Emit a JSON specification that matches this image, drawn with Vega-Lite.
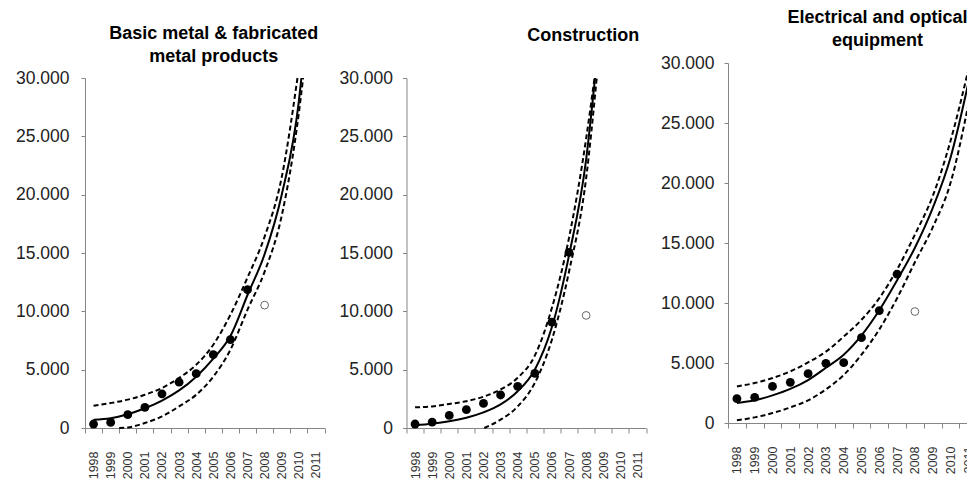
{
  "$schema": "https://vega.github.io/schema/vega-lite/v6.json",
  "padding": {"left": 15, "top": 9, "right": 0, "bottom": 0},
  "background": "white",
  "bounds": "flush",
  "spacing": 81.5,
  "config": {
    "view": {"stroke": null},
    "font": "Liberation Sans",
    "axis": {
      "labelFont": "Liberation Sans",
      "domainColor": "#868686",
      "tickColor": "#868686",
      "grid": false,
      "title": null
    },
    "title": {"font": "Liberation Sans", "fontSize": 18, "fontWeight": "bold", "color": "#000000", "lineHeight": 23, "anchor": "middle", "frame": "group"}
  },
  "data": {
    "values": [
      {"panel": "p1", "kind": "obs", "year": 1998, "value": 340},
      {"panel": "p1", "kind": "obs", "year": 1999, "value": 480},
      {"panel": "p1", "kind": "obs", "year": 2000, "value": 1140},
      {"panel": "p1", "kind": "obs", "year": 2001, "value": 1765},
      {"panel": "p1", "kind": "obs", "year": 2002, "value": 2930},
      {"panel": "p1", "kind": "obs", "year": 2003, "value": 3930},
      {"panel": "p1", "kind": "obs", "year": 2004, "value": 4660},
      {"panel": "p1", "kind": "obs", "year": 2005, "value": 6280},
      {"panel": "p1", "kind": "obs", "year": 2006, "value": 7580},
      {"panel": "p1", "kind": "obs", "year": 2007, "value": 11850},
      {"panel": "p1", "kind": "out", "year": 2008, "value": 10530},
      {"panel": "p1", "kind": "fit", "year": 1998, "value": 710},
      {"panel": "p1", "kind": "fit", "year": 1999, "value": 840},
      {"panel": "p1", "kind": "fit", "year": 2000, "value": 1180},
      {"panel": "p1", "kind": "fit", "year": 2001, "value": 1690},
      {"panel": "p1", "kind": "fit", "year": 2002, "value": 2350},
      {"panel": "p1", "kind": "fit", "year": 2003, "value": 3220},
      {"panel": "p1", "kind": "fit", "year": 2004, "value": 4400},
      {"panel": "p1", "kind": "fit", "year": 2005, "value": 5950},
      {"panel": "p1", "kind": "fit", "year": 2006, "value": 7880},
      {"panel": "p1", "kind": "fit", "year": 2007, "value": 11400},
      {"panel": "p1", "kind": "fit", "year": 2008, "value": 14900},
      {"panel": "p1", "kind": "fit", "year": 2009, "value": 20000},
      {"panel": "p1", "kind": "fit", "year": 2010, "value": 28000},
      {"panel": "p1", "kind": "fit", "year": 2010.15, "value": 30000},
      {"panel": "p1", "kind": "upper", "year": 1998, "value": 1910},
      {"panel": "p1", "kind": "upper", "year": 1999, "value": 2140},
      {"panel": "p1", "kind": "upper", "year": 2000, "value": 2430},
      {"panel": "p1", "kind": "upper", "year": 2001, "value": 2850},
      {"panel": "p1", "kind": "upper", "year": 2002, "value": 3430},
      {"panel": "p1", "kind": "upper", "year": 2003, "value": 4290},
      {"panel": "p1", "kind": "upper", "year": 2004, "value": 5420},
      {"panel": "p1", "kind": "upper", "year": 2005, "value": 7140},
      {"panel": "p1", "kind": "upper", "year": 2006, "value": 9700},
      {"panel": "p1", "kind": "upper", "year": 2007, "value": 12900},
      {"panel": "p1", "kind": "upper", "year": 2008, "value": 16400},
      {"panel": "p1", "kind": "upper", "year": 2009, "value": 21500},
      {"panel": "p1", "kind": "upper", "year": 2009.92, "value": 30000},
      {"panel": "p1", "kind": "lower", "year": 1999.5, "value": 0},
      {"panel": "p1", "kind": "lower", "year": 2000, "value": 40},
      {"panel": "p1", "kind": "lower", "year": 2001, "value": 430},
      {"panel": "p1", "kind": "lower", "year": 2002, "value": 990},
      {"panel": "p1", "kind": "lower", "year": 2003, "value": 1850},
      {"panel": "p1", "kind": "lower", "year": 2004, "value": 2850},
      {"panel": "p1", "kind": "lower", "year": 2005, "value": 4400},
      {"panel": "p1", "kind": "lower", "year": 2006, "value": 6710},
      {"panel": "p1", "kind": "lower", "year": 2007, "value": 10150},
      {"panel": "p1", "kind": "lower", "year": 2008, "value": 13400},
      {"panel": "p1", "kind": "lower", "year": 2009, "value": 18200},
      {"panel": "p1", "kind": "lower", "year": 2010, "value": 27000},
      {"panel": "p1", "kind": "lower", "year": 2010.25, "value": 30000},

      {"panel": "p2", "kind": "obs", "year": 1998, "value": 340},
      {"panel": "p2", "kind": "obs", "year": 1999, "value": 510},
      {"panel": "p2", "kind": "obs", "year": 2000, "value": 1080},
      {"panel": "p2", "kind": "obs", "year": 2001, "value": 1570},
      {"panel": "p2", "kind": "obs", "year": 2002, "value": 2110},
      {"panel": "p2", "kind": "obs", "year": 2003, "value": 2830},
      {"panel": "p2", "kind": "obs", "year": 2004, "value": 3570},
      {"panel": "p2", "kind": "obs", "year": 2005, "value": 4680},
      {"panel": "p2", "kind": "obs", "year": 2006, "value": 9070},
      {"panel": "p2", "kind": "obs", "year": 2007, "value": 15050},
      {"panel": "p2", "kind": "out", "year": 2008, "value": 9650},
      {"panel": "p2", "kind": "fit", "year": 1998, "value": 230},
      {"panel": "p2", "kind": "fit", "year": 1999, "value": 360},
      {"panel": "p2", "kind": "fit", "year": 2000, "value": 570},
      {"panel": "p2", "kind": "fit", "year": 2001, "value": 880},
      {"panel": "p2", "kind": "fit", "year": 2002, "value": 1340},
      {"panel": "p2", "kind": "fit", "year": 2003, "value": 2020},
      {"panel": "p2", "kind": "fit", "year": 2004, "value": 3150},
      {"panel": "p2", "kind": "fit", "year": 2005, "value": 5000},
      {"panel": "p2", "kind": "fit", "year": 2006, "value": 8650},
      {"panel": "p2", "kind": "fit", "year": 2007, "value": 14800},
      {"panel": "p2", "kind": "fit", "year": 2008, "value": 23000},
      {"panel": "p2", "kind": "fit", "year": 2008.52, "value": 30000},
      {"panel": "p2", "kind": "upper", "year": 1998, "value": 1770},
      {"panel": "p2", "kind": "upper", "year": 1999, "value": 1850},
      {"panel": "p2", "kind": "upper", "year": 2000, "value": 2060},
      {"panel": "p2", "kind": "upper", "year": 2001, "value": 2300},
      {"panel": "p2", "kind": "upper", "year": 2002, "value": 2680},
      {"panel": "p2", "kind": "upper", "year": 2003, "value": 3300},
      {"panel": "p2", "kind": "upper", "year": 2004, "value": 4300},
      {"panel": "p2", "kind": "upper", "year": 2005, "value": 6200},
      {"panel": "p2", "kind": "upper", "year": 2006, "value": 10300},
      {"panel": "p2", "kind": "upper", "year": 2007, "value": 16300},
      {"panel": "p2", "kind": "upper", "year": 2008, "value": 24800},
      {"panel": "p2", "kind": "upper", "year": 2008.49, "value": 30000},
      {"panel": "p2", "kind": "lower", "year": 2002.05, "value": 0},
      {"panel": "p2", "kind": "lower", "year": 2003, "value": 710},
      {"panel": "p2", "kind": "lower", "year": 2004, "value": 1850},
      {"panel": "p2", "kind": "lower", "year": 2005, "value": 3860},
      {"panel": "p2", "kind": "lower", "year": 2006, "value": 7570},
      {"panel": "p2", "kind": "lower", "year": 2007, "value": 13400},
      {"panel": "p2", "kind": "lower", "year": 2008, "value": 21400},
      {"panel": "p2", "kind": "lower", "year": 2008.62, "value": 30000},

      {"panel": "p3", "kind": "obs", "year": 1998, "value": 2030},
      {"panel": "p3", "kind": "obs", "year": 1999, "value": 2140},
      {"panel": "p3", "kind": "obs", "year": 2000, "value": 3050},
      {"panel": "p3", "kind": "obs", "year": 2001, "value": 3390},
      {"panel": "p3", "kind": "obs", "year": 2002, "value": 4110},
      {"panel": "p3", "kind": "obs", "year": 2003, "value": 4970},
      {"panel": "p3", "kind": "obs", "year": 2004, "value": 5030},
      {"panel": "p3", "kind": "obs", "year": 2005, "value": 7110},
      {"panel": "p3", "kind": "obs", "year": 2006, "value": 9370},
      {"panel": "p3", "kind": "obs", "year": 2007, "value": 12400},
      {"panel": "p3", "kind": "out", "year": 2008, "value": 9290},
      {"panel": "p3", "kind": "fit", "year": 1998, "value": 1670},
      {"panel": "p3", "kind": "fit", "year": 1999, "value": 1890},
      {"panel": "p3", "kind": "fit", "year": 2000, "value": 2300},
      {"panel": "p3", "kind": "fit", "year": 2001, "value": 2840},
      {"panel": "p3", "kind": "fit", "year": 2002, "value": 3580},
      {"panel": "p3", "kind": "fit", "year": 2003, "value": 4600},
      {"panel": "p3", "kind": "fit", "year": 2004, "value": 5690},
      {"panel": "p3", "kind": "fit", "year": 2005, "value": 7300},
      {"panel": "p3", "kind": "fit", "year": 2006, "value": 9400},
      {"panel": "p3", "kind": "fit", "year": 2007, "value": 11900},
      {"panel": "p3", "kind": "fit", "year": 2008, "value": 14600},
      {"panel": "p3", "kind": "fit", "year": 2009, "value": 17900},
      {"panel": "p3", "kind": "fit", "year": 2010, "value": 22100},
      {"panel": "p3", "kind": "fit", "year": 2011, "value": 28300},
      {"panel": "p3", "kind": "upper", "year": 1998, "value": 3050},
      {"panel": "p3", "kind": "upper", "year": 1999, "value": 3330},
      {"panel": "p3", "kind": "upper", "year": 2000, "value": 3750},
      {"panel": "p3", "kind": "upper", "year": 2001, "value": 4300},
      {"panel": "p3", "kind": "upper", "year": 2002, "value": 5050},
      {"panel": "p3", "kind": "upper", "year": 2003, "value": 5950},
      {"panel": "p3", "kind": "upper", "year": 2004, "value": 7200},
      {"panel": "p3", "kind": "upper", "year": 2005, "value": 8600},
      {"panel": "p3", "kind": "upper", "year": 2006, "value": 10400},
      {"panel": "p3", "kind": "upper", "year": 2007, "value": 12800},
      {"panel": "p3", "kind": "upper", "year": 2008, "value": 15700},
      {"panel": "p3", "kind": "upper", "year": 2009, "value": 18900},
      {"panel": "p3", "kind": "upper", "year": 2010, "value": 23500},
      {"panel": "p3", "kind": "upper", "year": 2011, "value": 29400},
      {"panel": "p3", "kind": "lower", "year": 1998, "value": 220},
      {"panel": "p3", "kind": "lower", "year": 1999, "value": 470},
      {"panel": "p3", "kind": "lower", "year": 2000, "value": 830},
      {"panel": "p3", "kind": "lower", "year": 2001, "value": 1300},
      {"panel": "p3", "kind": "lower", "year": 2002, "value": 1890},
      {"panel": "p3", "kind": "lower", "year": 2003, "value": 2800},
      {"panel": "p3", "kind": "lower", "year": 2004, "value": 4000},
      {"panel": "p3", "kind": "lower", "year": 2005, "value": 5700},
      {"panel": "p3", "kind": "lower", "year": 2006, "value": 7800},
      {"panel": "p3", "kind": "lower", "year": 2007, "value": 10400},
      {"panel": "p3", "kind": "lower", "year": 2008, "value": 13400},
      {"panel": "p3", "kind": "lower", "year": 2009, "value": 16300},
      {"panel": "p3", "kind": "lower", "year": 2010, "value": 20000},
      {"panel": "p3", "kind": "lower", "year": 2011, "value": 26500}
    ]
  },
  "hconcat": [
    {
      "width": 239.5,
      "height": 365,
      "title": {"text": ["Basic metal & fabricated", "metal products"], "dx": 9, "dy": 7},
      "transform": [{"filter": "datum.panel === 'p1'"}],
      "encoding": {
        "x": {"field": "year", "type": "quantitative",
          "scale": {"domain": [1997.5, 2011.5], "nice": false, "zero": false},
          "axis": {"values": [1997.5, 1998.5, 1999.5, 2000.5, 2001.5, 2002.5, 2003.5, 2004.5, 2005.5, 2006.5, 2007.5, 2008.5, 2009.5, 2010.5, 2011.5],
            "labelExpr": "datum.value > 2011.2 ? '' : format(datum.value + 0.5, 'd')",
            "labelAngle": -90, "labelOffset": 8.55, "labelFontSize": 12.5, "labelColor": "#333333",
            "tickSize": 5, "labelPadding": 18, "labelOverlap": false, "labelFlush": false, "labelBound": false}},
        "y": {"field": "value", "type": "quantitative",
          "scale": {"domain": [0, 30000], "range": [365, 15], "nice": false, "zero": true},
          "axis": {"values": [0, 5000, 10000, 15000, 20000, 25000, 30000],
            "labelExpr": "replace(format(datum.value, ','), ',', '.')",
            "labelFontSize": 17.5, "labelColor": "#222222", "tickSize": 4, "labelPadding": 12}}
      },
      "layer": [
        {"transform": [{"filter": "datum.kind === 'upper'"}], "mark": {"type": "line", "interpolate": "monotone", "color": "#000000", "strokeWidth": 2, "strokeDash": [5, 3]}, "encoding": {}},
        {"transform": [{"filter": "datum.kind === 'lower'"}], "mark": {"type": "line", "interpolate": "monotone", "color": "#000000", "strokeWidth": 2, "strokeDash": [5, 3]}, "encoding": {}},
        {"transform": [{"filter": "datum.kind === 'fit'"}], "mark": {"type": "line", "interpolate": "monotone", "color": "#000000", "strokeWidth": 2}, "encoding": {}},
        {"transform": [{"filter": "datum.kind === 'obs'"}], "mark": {"type": "point", "shape": "circle", "filled": true, "color": "#000000", "size": 78, "opacity": 1}, "encoding": {}},
        {"transform": [{"filter": "datum.kind === 'out'"}], "mark": {"type": "point", "shape": "circle", "filled": false, "color": "#666666", "strokeWidth": 1, "size": 60, "opacity": 1}, "encoding": {}}
      ]
    },
    {
      "width": 239.5,
      "height": 365,
      "title": {"text": "Construction", "dx": 57, "dy": -14},
      "transform": [{"filter": "datum.panel === 'p2'"}],
      "encoding": {
        "x": {"field": "year", "type": "quantitative",
          "scale": {"domain": [1997.5, 2011.5], "nice": false, "zero": false},
          "axis": {"values": [1997.5, 1998.5, 1999.5, 2000.5, 2001.5, 2002.5, 2003.5, 2004.5, 2005.5, 2006.5, 2007.5, 2008.5, 2009.5, 2010.5, 2011.5],
            "labelExpr": "datum.value > 2011.2 ? '' : format(datum.value + 0.5, 'd')",
            "labelAngle": -90, "labelOffset": 8.55, "labelFontSize": 12.5, "labelColor": "#333333",
            "tickSize": 5, "labelPadding": 18, "labelOverlap": false, "labelFlush": false, "labelBound": false}},
        "y": {"field": "value", "type": "quantitative",
          "scale": {"domain": [0, 30000], "range": [365, 15], "nice": false, "zero": true},
          "axis": {"values": [0, 5000, 10000, 15000, 20000, 25000, 30000],
            "labelExpr": "replace(format(datum.value, ','), ',', '.')",
            "labelFontSize": 17.5, "labelColor": "#222222", "tickSize": 4, "labelPadding": 10}}
      },
      "layer": [
        {"transform": [{"filter": "datum.kind === 'upper'"}], "mark": {"type": "line", "interpolate": "monotone", "color": "#000000", "strokeWidth": 2, "strokeDash": [5, 3]}, "encoding": {}},
        {"transform": [{"filter": "datum.kind === 'lower'"}], "mark": {"type": "line", "interpolate": "monotone", "color": "#000000", "strokeWidth": 2, "strokeDash": [5, 3]}, "encoding": {}},
        {"transform": [{"filter": "datum.kind === 'fit'"}], "mark": {"type": "line", "interpolate": "monotone", "color": "#000000", "strokeWidth": 2}, "encoding": {}},
        {"transform": [{"filter": "datum.kind === 'obs'"}], "mark": {"type": "point", "shape": "circle", "filled": true, "color": "#000000", "size": 78, "opacity": 1}, "encoding": {}},
        {"transform": [{"filter": "datum.kind === 'out'"}], "mark": {"type": "point", "shape": "circle", "filled": false, "color": "#666666", "strokeWidth": 1, "size": 60, "opacity": 1}, "encoding": {}}
      ]
    },
    {
      "width": 241,
      "height": 360,
      "title": {"text": ["Electrical and optical", "equipment"], "dx": 29},
      "transform": [{"filter": "datum.panel === 'p3'"}],
      "encoding": {
        "x": {"field": "year", "type": "quantitative",
          "scale": {"domain": [1997.5, 2011.04], "nice": false, "zero": false},
          "axis": {"values": [1997.5, 1998.5, 1999.5, 2000.5, 2001.5, 2002.5, 2003.5, 2004.5, 2005.5, 2006.5, 2007.5, 2008.5, 2009.5, 2010.5],
            "labelExpr": "format(datum.value + 0.5, 'd')",
            "labelAngle": -90, "labelOffset": 8.9, "labelFontSize": 12.5, "labelColor": "#333333",
            "tickSize": 5, "labelPadding": 18, "labelOverlap": false, "labelFlush": false, "labelBound": false}},
        "y": {"field": "value", "type": "quantitative",
          "scale": {"domain": [0, 30000], "nice": false, "zero": true},
          "axis": {"values": [0, 5000, 10000, 15000, 20000, 25000, 30000],
            "labelExpr": "replace(format(datum.value, ','), ',', '.')",
            "labelFontSize": 17.5, "labelColor": "#222222", "tickSize": 4, "labelPadding": 10}}
      },
      "layer": [
        {"transform": [{"filter": "datum.kind === 'upper'"}], "mark": {"type": "line", "interpolate": "monotone", "color": "#000000", "strokeWidth": 2, "strokeDash": [5, 3]}, "encoding": {}},
        {"transform": [{"filter": "datum.kind === 'lower'"}], "mark": {"type": "line", "interpolate": "monotone", "color": "#000000", "strokeWidth": 2, "strokeDash": [5, 3]}, "encoding": {}},
        {"transform": [{"filter": "datum.kind === 'fit'"}], "mark": {"type": "line", "interpolate": "monotone", "color": "#000000", "strokeWidth": 2}, "encoding": {}},
        {"transform": [{"filter": "datum.kind === 'obs'"}], "mark": {"type": "point", "shape": "circle", "filled": true, "color": "#000000", "size": 78, "opacity": 1}, "encoding": {}},
        {"transform": [{"filter": "datum.kind === 'out'"}], "mark": {"type": "point", "shape": "circle", "filled": false, "color": "#666666", "strokeWidth": 1, "size": 60, "opacity": 1}, "encoding": {}}
      ]
    }
  ]
}
